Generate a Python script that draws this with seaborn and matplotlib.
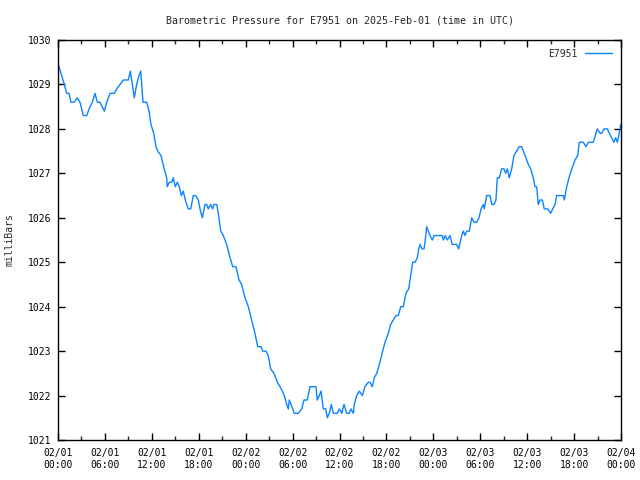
import matplotlib
matplotlib.use("Agg")
import matplotlib.pyplot as plt
import matplotlib.dates as mdates
import numpy as np
import pandas as pd
import seaborn as sns

# hours after 2025-02-01 00:00 UTC
hours = [0.13, 0.47, 0.81, 1.11, 1.41, 1.66, 2.08, 2.47, 2.81, 3.24, 3.67, 4.09,
         4.39, 4.73, 5.03, 5.37, 5.92, 6.23, 6.65, 7.20, 7.51, 7.93, 8.35, 8.99,
         9.25, 9.50, 9.76, 10.06, 10.36, 10.58, 10.87, 11.34, 11.64, 11.89, 12.24,
         12.53, 12.75, 13.17, 13.59, 13.90, 13.98, 14.23, 14.54, 14.75, 15.00,
         15.26, 15.51, 15.77, 16.02, 16.28, 16.66, 16.97, 17.30, 17.61, 17.94,
         18.16, 18.45, 18.80, 19.02, 19.22, 19.53, 19.78, 19.95, 20.30, 20.50,
         20.81, 21.14, 21.57, 22.00, 22.34, 22.76, 23.15, 23.49, 23.91, 24.34,
         24.77, 25.19, 25.54, 25.96, 26.18, 26.60, 26.89, 27.20, 27.62, 28.05,
         28.39, 28.69, 28.94, 29.25, 29.45, 29.58, 29.80, 30.22, 30.73, 31.17,
         31.46, 31.88, 32.23, 32.99, 33.16, 33.42, 33.63, 33.93, 34.24, 34.44,
         34.70, 34.95, 35.21, 35.72, 35.97, 36.28, 36.58, 36.92, 37.25, 37.47,
         37.77, 37.89, 38.20, 38.53, 38.92, 39.26, 39.68, 39.90, 40.19, 40.45,
         40.76, 41.09, 41.52, 41.82, 42.24, 42.55, 42.88, 43.23, 43.52, 43.83,
         44.16, 44.50, 44.85, 45.11, 45.36, 45.66, 45.95, 46.13, 46.30, 46.55,
         46.81, 46.97, 47.15, 47.36, 47.57, 47.87, 48.09, 49.15, 49.27, 49.53,
         49.79, 50.13, 50.42, 50.99, 51.24, 51.63, 51.83, 52.05, 52.27, 52.60,
         52.91, 53.20, 53.55, 53.84, 54.10, 54.39, 54.52, 54.83, 55.25, 55.47,
         55.76, 56.01, 56.18, 56.44, 56.74, 57.04, 57.25, 57.46, 57.71, 58.02,
         58.31, 58.66, 58.99, 59.30, 59.72, 60.15, 60.45, 60.79, 61.00, 61.22,
         61.42, 61.64, 61.94, 62.19, 62.63, 63.01, 63.27, 63.56, 63.78, 64.62,
         64.75, 65.06, 65.35, 65.70, 66.12, 66.46, 66.67, 67.18, 67.52, 67.82,
         68.46, 68.80, 68.97, 69.32, 69.53, 69.83, 70.25, 70.51, 70.81, 71.10,
         71.32, 71.52, 71.78, 71.96]
pressure = [1029.4, 1029.2, 1029.0, 1028.8, 1028.8, 1028.6, 1028.6, 1028.7, 1028.6,
            1028.3, 1028.3, 1028.5, 1028.6, 1028.8, 1028.6, 1028.6, 1028.4, 1028.6,
            1028.8, 1028.8, 1028.9, 1029.0, 1029.1, 1029.1, 1029.3, 1029.0, 1028.7,
            1029.0, 1029.2, 1029.3, 1028.6, 1028.6, 1028.4, 1028.1, 1027.9, 1027.6,
            1027.5, 1027.4, 1027.1, 1026.9, 1026.7, 1026.8, 1026.8, 1026.9, 1026.7,
            1026.8, 1026.7, 1026.5, 1026.6, 1026.4, 1026.2, 1026.2, 1026.5, 1026.5,
            1026.4, 1026.2, 1026.0, 1026.3, 1026.3, 1026.2, 1026.3, 1026.2, 1026.3,
            1026.3, 1026.1, 1025.7, 1025.6, 1025.4, 1025.1, 1024.9, 1024.9, 1024.6,
            1024.5, 1024.2, 1024.0, 1023.7, 1023.4, 1023.1, 1023.1, 1023.0, 1023.0,
            1022.9, 1022.6, 1022.5, 1022.3, 1022.2, 1022.1, 1022.0, 1021.8, 1021.7,
            1021.9, 1021.8, 1021.6, 1021.6, 1021.7, 1021.9, 1021.9, 1022.2, 1022.2,
            1021.9, 1022.0, 1022.1, 1021.7, 1021.7, 1021.5, 1021.6, 1021.8, 1021.6,
            1021.6, 1021.7, 1021.6, 1021.8, 1021.6, 1021.6, 1021.7, 1021.6, 1021.8,
            1022.0, 1022.1, 1022.0, 1022.2, 1022.3, 1022.3, 1022.2, 1022.4, 1022.5,
            1022.7, 1023.0, 1023.2, 1023.4, 1023.6, 1023.7, 1023.8, 1023.8, 1024.0,
            1024.0, 1024.3, 1024.4, 1024.7, 1025.0, 1025.0, 1025.1, 1025.3, 1025.4,
            1025.3, 1025.3, 1025.5, 1025.8, 1025.7, 1025.6, 1025.5, 1025.6, 1025.6,
            1025.5, 1025.6, 1025.5, 1025.6, 1025.4, 1025.4, 1025.3, 1025.6, 1025.7,
            1025.6, 1025.7, 1025.7, 1026.0, 1025.9, 1025.9, 1026.0, 1026.2, 1026.3,
            1026.2, 1026.5, 1026.5, 1026.3, 1026.3, 1026.4, 1026.9, 1026.9, 1027.1,
            1027.1, 1027.0, 1027.1, 1026.9, 1027.1, 1027.4, 1027.5, 1027.6, 1027.6,
            1027.4, 1027.2, 1027.1, 1026.9, 1026.7, 1026.7, 1026.3, 1026.4, 1026.4,
            1026.2, 1026.2, 1026.1, 1026.2, 1026.3, 1026.5, 1026.5, 1026.4, 1026.7,
            1026.9, 1027.1, 1027.3, 1027.4, 1027.7, 1027.7, 1027.6, 1027.7, 1027.7,
            1027.9, 1028.0, 1027.9, 1027.9, 1028.0, 1028.0, 1027.9, 1027.8, 1027.7,
            1027.8, 1027.7, 1027.9, 1028.1]

station = "E7951"
start = pd.Timestamp("2025-02-01 00:00")
end = pd.Timestamp("2025-02-04 00:00")

df = pd.DataFrame({"time": start + pd.to_timedelta(hours, unit="h"),
                   "mb": pressure})

sns.set_style("ticks")
plt.rcParams["font.family"] = ["DejaVu Sans Mono"]
plt.rcParams["font.size"] = 7

fig = plt.figure(figsize=(6.4, 4.8), dpi=100)
ax = fig.add_axes([58 / 640, 40 / 480, 563 / 640, 400 / 480])

sns.lineplot(data=df, x="time", y="mb", ax=ax, color="#0a84ff", lw=1,
             label=station)

ax.set_xlim(start, end)
ax.set_ylim(1021, 1030)
ax.set_yticks(np.arange(1021, 1031, 1))
ax.xaxis.set_major_locator(mdates.HourLocator(byhour=[0, 6, 12, 18]))
ax.xaxis.set_minor_locator(mdates.HourLocator(byhour=[3, 9, 15, 21]))
ax.xaxis.set_major_formatter(mdates.DateFormatter("%m/%d\n%H:%M"))

for s in ax.spines.values():
    s.set_visible(True)
    s.set_color("black")
    s.set_linewidth(1)
ax.tick_params(which="major", direction="in", length=5, width=1,
               top=True, right=True, colors="black", pad=5)
ax.tick_params(which="minor", direction="in", length=3, width=1,
               top=True, bottom=True)
ax.tick_params(axis="y", which="minor", left=False, right=False)
ax.tick_params(axis="x", which="major", pad=6)

ax.set_xlabel("")
ax.set_ylabel("milliBars")
ax.yaxis.set_label_coords(-0.077, 0.5)
ax.set_title("Barometric Pressure for E7951 on 2025-Feb-01 (time in UTC)",
             fontsize=7.2, pad=12)

ax.legend(loc="upper right", frameon=False, markerfirst=False,
          handlelength=2.8, borderaxespad=0.5, handletextpad=0.8)

fig.savefig("out.png", dpi=100)
